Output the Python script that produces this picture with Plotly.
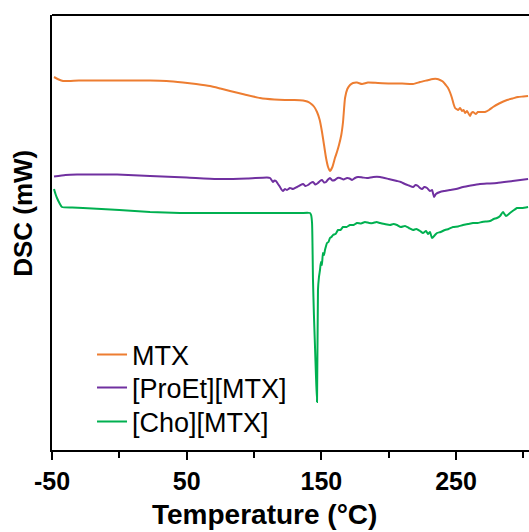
import plotly.graph_objects as go

# DSC thermograms (heat flow offset per sample, mW)
mtx_temp = [-48.5, -45.0, -41.8, -30.0, -14.4, 5.0, 22.8, 35.0, 47.3, 57.0, 67.3, 75.0, 82.2,
            93.0, 104.5, 115.0, 123.0, 130.0, 136.4, 139.5, 141.6, 144.5, 146.8, 148.8,
            150.5, 152.0, 153.5, 155.0, 156.4, 158.2, 160.1, 161.6, 163.1, 164.8, 166.1,
            167.6, 169.3, 171.3, 173.5, 176.5, 180.2, 184.6, 192.0, 201.0, 210.0, 218.1,
            223.3, 228.0, 232.9, 236.0, 238.1, 240.2, 241.8, 243.0, 244.1, 245.6, 247.0,
            248.2, 249.3, 250.4, 251.5, 253.0, 254.5, 255.6, 256.7, 258.2, 259.3, 260.4,
            261.5, 262.6, 264.8, 266.2, 267.8, 271.5, 274.5, 277.5, 282.0, 287.9, 292.0,
            296.0, 300.0, 303.5]
mtx_dsc = [7.46, 7.41, 7.38, 7.39, 7.39, 7.39, 7.39, 7.38, 7.35, 7.32, 7.28, 7.23, 7.18,
           7.11, 7.04, 7.01, 7.00, 7.00, 6.99, 6.97, 6.94, 6.87, 6.76, 6.60,
           6.36, 6.10, 5.84, 5.66, 5.58, 5.66, 5.84, 5.96, 6.10, 6.30, 6.56,
           7.04, 7.22, 7.30, 7.34, 7.35, 7.32, 7.35, 7.34, 7.33, 7.33, 7.32,
           7.36, 7.39, 7.42, 7.42, 7.40, 7.37, 7.32, 7.28, 7.24, 7.15, 7.04,
           6.92, 6.84, 6.82, 6.80, 6.84, 6.78, 6.80, 6.74, 6.78, 6.73, 6.68,
           6.74, 6.76, 6.72, 6.76, 6.76, 6.76, 6.80, 6.86, 6.93, 7.00, 7.03,
           7.06, 7.07, 7.08]

proet_temp = [-48.5, -40.0, -31.4, -15.0, -1.7, 22.8, 50.0, 72.5, 95.0, 109.6, 111.9, 113.0,
              114.1, 115.2, 116.3, 117.8, 119.3, 120.4, 121.5, 123.0, 124.5, 126.7, 129.0,
              131.9, 134.0, 136.4, 138.2, 140.1, 142.0, 143.8, 145.6, 147.5, 149.0, 150.5,
              152.0, 153.5, 155.0, 156.4, 158.2, 160.1, 162.0, 163.9, 166.5, 169.1, 171.0,
              172.8, 175.0, 177.2, 180.5, 183.9, 188.5, 193.6, 200.0, 206.2, 209.0, 212.1,
              215.0, 218.1, 220.0, 221.8, 223.3, 224.8, 226.5, 228.5, 230.7, 232.2, 233.7,
              235.1, 238.1, 241.5, 245.5, 250.0, 255.2, 261.0, 267.8, 274.0, 280.4, 292.0, 303.5]
proet_dsc = [5.47, 5.50, 5.51, 5.51, 5.51, 5.48, 5.45, 5.42, 5.43, 5.45, 5.44, 5.40,
             5.36, 5.39, 5.38, 5.32, 5.26, 5.21, 5.18, 5.22, 5.20, 5.24, 5.22,
             5.26, 5.29, 5.32, 5.28, 5.30, 5.34, 5.36, 5.31, 5.34, 5.38, 5.40,
             5.35, 5.36, 5.41, 5.44, 5.39, 5.40, 5.44, 5.44, 5.41, 5.44, 5.43,
             5.40, 5.44, 5.46, 5.45, 5.44, 5.46, 5.46, 5.42, 5.38, 5.36, 5.32,
             5.29, 5.26, 5.30, 5.28, 5.24, 5.22, 5.26, 5.24, 5.18, 5.20, 5.06,
             5.12, 5.16, 5.18, 5.20, 5.22, 5.26, 5.29, 5.32, 5.33, 5.34, 5.38, 5.42]

cho_temp = [-48.5, -47.4, -46.3, -44.5, -42.6, -35.0, -27.0, 0.0, 22.8, 45.0, 72.5, 100.0,
            121.5, 135.0, 141.6, 142.4, 143.1, 143.8, 144.5, 145.3, 146.0, 146.8,
            147.5, 148.2, 149.0, 149.7, 150.4, 151.2, 152.0, 152.7, 153.5, 154.2, 155.3,
            156.4, 157.5, 158.7, 160.5, 162.4, 164.2, 166.1, 168.7, 171.3, 174.0, 176.5,
            179.5, 182.4, 185.5, 188.4, 191.0, 193.6, 197.0, 201.0, 203.5, 206.2, 209.0,
            212.1, 215.0, 218.1, 220.5, 223.3, 225.5, 227.7, 229.2, 230.7, 232.2, 234.4,
            235.9, 238.5, 241.8, 244.5, 247.8, 251.5, 255.2, 259.0, 262.6, 266.0, 269.3,
            272.0, 275.2, 278.0, 280.4, 282.7, 284.9, 287.1, 290.1, 293.1, 295.3, 299.0, 303.5]
cho_dsc = [5.22, 5.12, 5.04, 4.94, 4.86, 4.85, 4.84, 4.80, 4.76, 4.74, 4.74, 4.74,
           4.74, 4.74, 4.74, 4.70, 4.54, 3.40, 2.70, 2.06, 1.50, 0.96,
           3.20, 3.45, 3.60, 3.76, 3.70, 3.94, 3.90, 4.00, 4.08, 4.14, 4.16,
           4.24, 4.26, 4.30, 4.32, 4.40, 4.40, 4.46, 4.46, 4.50, 4.50, 4.54,
           4.53, 4.56, 4.54, 4.54, 4.56, 4.54, 4.52, 4.50, 4.52, 4.50, 4.46,
           4.48, 4.44, 4.40, 4.42, 4.38, 4.34, 4.38, 4.32, 4.36, 4.24, 4.30,
           4.34, 4.36, 4.40, 4.42, 4.46, 4.47, 4.50, 4.52, 4.54, 4.54, 4.56,
           4.57, 4.58, 4.62, 4.64, 4.68, 4.76, 4.68, 4.74, 4.80, 4.84, 4.84, 4.86]

major_ticks = [-50, 50, 150, 250]
minor_ticks = [0, 100, 200, 300]

FONT = "Arial, 'Liberation Sans', sans-serif"

series = [
    ("MTX", mtx_temp, mtx_dsc, "#ED7D31", "legend", 0.2184),
    ("[ProEt][MTX]", proet_temp, proet_dsc, "#7030A0", "legend2", 0.1425),
    ("[Cho][MTX]", cho_temp, cho_dsc, "#00B050", "legend3", 0.0644),
]

fig = go.Figure()
legend_layout = {}
for name, t, d, color, leg, ypos in series:
    fig.add_trace(go.Scatter(x=t, y=d, mode="lines", name=name, legend=leg,
                             line=dict(color=color, width=2, shape="spline", smoothing=0.5)))
    legend_layout[leg] = dict(x=0.0839, y=ypos, xanchor="left", yanchor="middle",
                              bgcolor="rgba(0,0,0,0)", borderwidth=0,
                              font=dict(size=27, family=FONT, color="black"))

fig.update_layout(
    width=529, height=532,
    margin=dict(l=52, r=0, t=15, b=82),
    paper_bgcolor="white", plot_bgcolor="white",
    font=dict(family=FONT, color="black"),
    showlegend=True,
    **legend_layout,
    xaxis=dict(
        range=[-50, 304.2], showgrid=False, zeroline=False,
        showline=True, linecolor="black", linewidth=2,
        tickmode="array", tickvals=major_ticks, ticktext=[str(v) for v in major_ticks],
        ticks="outside", ticklen=8, tickwidth=2, tickcolor="black",
        tickfont=dict(size=25, family=FONT, weight="bold"),
        minor=dict(tickvals=minor_ticks, ticks="outside", ticklen=6, tickwidth=2,
                   tickcolor="black", showgrid=False),
    ),
    yaxis=dict(
        range=[0, 8.7], showgrid=False, zeroline=False,
        showline=True, linecolor="black", linewidth=2,
        showticklabels=False, ticks="",
    ),
)

# axis titles
fig.add_annotation(text="<b>Temperature (°C)</b>", xref="paper", yref="paper",
                   x=0.4465, y=-0.1885, xanchor="center", yanchor="bottom",
                   showarrow=False, font=dict(size=28, family=FONT, color="black"))
fig.add_annotation(text="<b>DSC (mW)</b>", xref="paper", yref="paper",
                   x=-0.061, y=0.545, xanchor="center", yanchor="middle", textangle=-90,
                   showarrow=False, font=dict(size=26, family=FONT, color="black"))

# frame line across the top of the plotting area
fig.add_shape(type="line", xref="paper", yref="paper", x0=0, x1=1, y0=1, y1=1,
              line=dict(color="black", width=2))

fig.write_html("out.html")
